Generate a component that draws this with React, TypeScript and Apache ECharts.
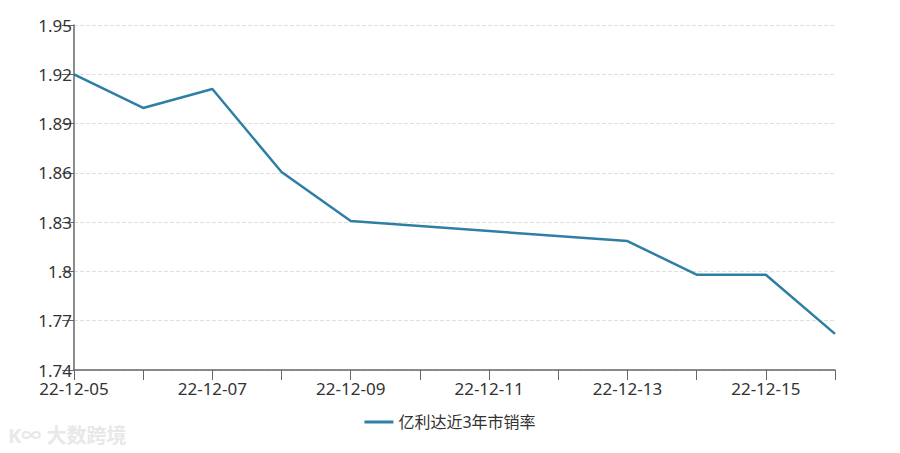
import React, { useEffect, useRef } from "react";
import * as echarts from "echarts";

const dates = [
  "22-12-05", "22-12-06", "22-12-07", "22-12-08", "22-12-09", "22-12-10",
  "22-12-11", "22-12-12", "22-12-13", "22-12-14", "22-12-15", "22-12-16",
];
const psValues: (number | null)[] = [
  1.92, 1.8995, 1.911, 1.8605, 1.8307, null, null, null, 1.8185, 1.798, 1.798, 1.762,
];
const seriesName = "亿利达近3年市销率";
const yMin = 1.74;
const yMax = 1.95;
const yStep = 0.03;

export default function App() {
  const ref = useRef<HTMLDivElement>(null);
  useEffect(() => {
    if (!ref.current) return;
    const chart = echarts.init(ref.current, undefined, { renderer: "svg" });
    const font = "'Noto Sans', 'Noto Sans CJK SC', sans-serif";
    chart.setOption({
      animation: false,
      textStyle: { fontFamily: font },
      grid: { left: 74, right: 65, top: 25, bottom: 83 },
      legend: {
        bottom: 18,
        left: "center",
        itemWidth: 29,
        itemHeight: 14,
        icon: "path://M0,6 L29,6 L29,9 L0,9 Z",
        textStyle: { fontSize: 16, color: "#333", fontFamily: font },
        data: [seriesName],
      },
      xAxis: {
        type: "category",
        data: dates,
        boundaryGap: false,
        axisLine: { lineStyle: { color: "#666", width: 1.5 } },
        axisTick: { show: true, length: 10, interval: 0, lineStyle: { color: "#666" } },
        axisLabel: { interval: 1, fontSize: 17, color: "#333", margin: 10, fontFamily: font },
      },
      yAxis: {
        type: "value",
        min: yMin,
        max: yMax,
        interval: yStep,
        axisLine: { show: true, lineStyle: { color: "#666", width: 1.5 } },
        axisTick: { show: true, length: 12, lineStyle: { color: "#666" } },
        axisLabel: {
          fontSize: 17,
          color: "#333",
          margin: 2,
          fontFamily: font,
          formatter: (v: number) => String(parseFloat(v.toFixed(2))),
        },
        splitLine: { lineStyle: { type: "dashed", color: "#e0e0e0" } },
      },
      graphic: [
        {
          type: "text",
          left: 8,
          top: 425,
          style: {
            text: "K∞ 大数跨境",
            fontSize: 20,
            fontWeight: "bold",
            fill: "#e8e8e8",
            fontFamily: font,
          },
        },
      ],
      series: [
        {
          name: seriesName,
          type: "line",
          data: psValues,
          connectNulls: true,
          showSymbol: false,
          symbol: "none",
          lineStyle: { color: "#2f7ea6", width: 2.5 },
          itemStyle: { color: "#2f7ea6" },
        },
      ],
    });
    return () => chart.dispose();
  }, []);
  return (
    <div
      ref={ref}
      style={{ position: "absolute", left: 0, top: 0, width: 900, height: 453 }}
    />
  );
}
